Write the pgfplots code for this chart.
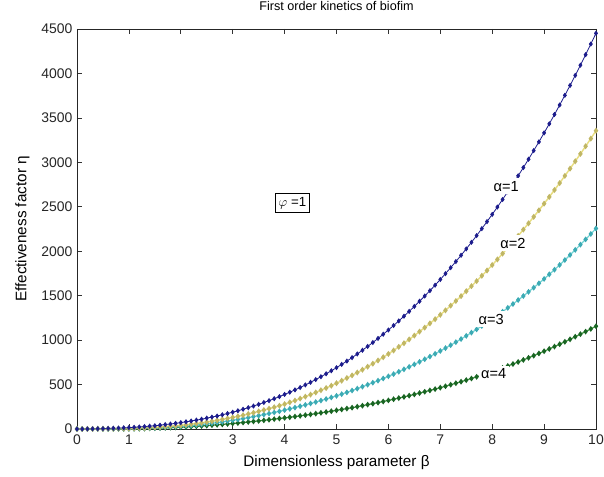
\documentclass[border=0pt]{standalone}
\usepackage{pgfplots}
\pgfplotsset{compat=1.18}
\usepackage{pgfplotstable}
\usepackage{fontspec}
\setmainfont{Liberation Sans}
\definecolor{cblue}{RGB}{28,28,140}
\definecolor{cyell}{RGB}{232,222,130}
\definecolor{cyellm}{RGB}{192,182,100}
\definecolor{ccyan}{RGB}{110,210,210}
\definecolor{ccyanm}{RGB}{60,170,180}
\definecolor{cgreen}{RGB}{60,150,60}
\definecolor{cgreenm}{RGB}{25,100,35}

% alpha = 1
\pgfplotstableread{
x y
0 0
0.1 0
0.2 1
0.3 2
0.4 3
0.5 4
0.6 6
0.7 8
0.8 10
0.9 13
1.0 16
1.1 19
1.2 23
1.3 27
1.4 32
1.5 37
1.6 43
1.7 50
1.8 56
1.9 64
2.0 72
2.1 81
2.2 90
2.3 100
2.4 110
2.5 122
2.6 134
2.7 146
2.8 160
2.9 174
3.0 189
3.1 205
3.2 222
3.3 240
3.4 258
3.5 277
3.6 298
3.7 319
3.8 341
3.9 364
4.0 389
4.1 414
4.2 440
4.3 467
4.4 496
4.5 525
4.6 556
4.7 588
4.8 621
4.9 655
5.0 690
5.1 727
5.2 764
5.3 803
5.4 844
5.5 886
5.6 929
5.7 973
5.8 1019
5.9 1066
6.0 1114
6.1 1164
6.2 1216
6.3 1269
6.4 1323
6.5 1379
6.6 1437
6.7 1496
6.8 1556
6.9 1618
7.0 1682
7.1 1748
7.2 1815
7.3 1884
7.4 1954
7.5 2026
7.6 2100
7.7 2176
7.8 2254
7.9 2333
8.0 2414
8.1 2497
8.2 2582
8.3 2669
8.4 2758
8.5 2848
8.6 2941
8.7 3035
8.8 3132
8.9 3230
9.0 3331
9.1 3433
9.2 3538
9.3 3645
9.4 3754
9.5 3865
9.6 3978
9.7 4093
9.8 4211
9.9 4331
10 4452
}\alphaone

% alpha = 2
\pgfplotstableread{
x y
0 0
0.1 0
0.2 1
0.3 1
0.4 2
0.5 2
0.6 3
0.7 3
0.8 4
0.9 4
1.0 5
1.1 7
1.2 10
1.3 12
1.4 15
1.5 18
1.6 22
1.7 26
1.8 31
1.9 35
2.0 40
2.1 47
2.2 54
2.3 61
2.4 69
2.5 78
2.6 87
2.7 97
2.8 108
2.9 119
3.0 130
3.1 142
3.2 155
3.3 169
3.4 183
3.5 198
3.6 213
3.7 229
3.8 245
3.9 262
4.0 280
4.1 300
4.2 320
4.3 342
4.4 364
4.5 387
4.6 411
4.7 436
4.8 461
4.9 487
5.0 515
5.1 543
5.2 573
5.3 603
5.4 635
5.5 667
5.6 701
5.7 735
5.8 771
5.9 807
6.0 845
6.1 883
6.2 924
6.3 965
6.4 1008
6.5 1051
6.6 1096
6.7 1141
6.8 1188
6.9 1235
7.0 1285
7.1 1335
7.2 1388
7.3 1440
7.4 1495
7.5 1550
7.6 1607
7.7 1664
7.8 1724
7.9 1783
8.0 1845
8.1 1908
8.2 1973
8.3 2038
8.4 2105
8.5 2173
8.6 2243
8.7 2314
8.8 2387
8.9 2460
9.0 2535
9.1 2611
9.2 2689
9.3 2767
9.4 2848
9.5 2929
9.6 3012
9.7 3095
9.8 3181
9.9 3267
10 3356
}\alphatwo

% alpha = 3
\pgfplotstableread{
x y
0 0
0.1 0
0.2 0
0.3 0
0.4 1
0.5 1
0.6 1
0.7 1
0.8 2
0.9 2
1.0 3
1.1 4
1.2 6
1.3 8
1.4 10
1.5 12
1.6 15
1.7 18
1.8 21
1.9 24
2.0 28
2.1 33
2.2 38
2.3 44
2.4 51
2.5 58
2.6 65
2.7 72
2.8 80
2.9 89
3.0 98
3.1 107
3.2 117
3.3 128
3.4 139
3.5 150
3.6 162
3.7 174
3.8 186
3.9 199
4.0 213
4.1 227
4.2 241
4.3 256
4.4 271
4.5 287
4.6 303
4.7 320
4.8 337
4.9 355
5.0 373
5.1 392
5.2 412
5.3 433
5.4 454
5.5 476
5.6 498
5.7 521
5.8 544
5.9 568
6.0 593
6.1 618
6.2 644
6.3 671
6.4 699
6.5 727
6.6 756
6.7 785
6.8 815
6.9 846
7.0 878
7.1 910
7.2 943
7.3 977
7.4 1012
7.5 1048
7.6 1084
7.7 1121
7.8 1159
7.9 1198
8.0 1238
8.1 1279
8.2 1320
8.3 1363
8.4 1406
8.5 1451
8.6 1496
8.7 1543
8.8 1590
8.9 1639
9.0 1688
9.1 1740
9.2 1792
9.3 1846
9.4 1901
9.5 1958
9.6 2015
9.7 2074
9.8 2133
9.9 2194
10 2256
}\alphathree

% alpha = 4
\pgfplotstableread{
x y
0 0
0.1 0
0.2 0
0.3 0
0.4 1
0.5 1
0.6 1
0.7 1
0.8 1
0.9 1
1.0 2
1.1 3
1.2 4
1.3 5
1.4 7
1.5 9
1.6 11
1.7 13
1.8 15
1.9 17
2.0 20
2.1 23
2.2 27
2.3 30
2.4 34
2.5 38
2.6 43
2.7 47
2.8 52
2.9 57
3.0 62
3.1 67
3.2 73
3.3 79
3.4 85
3.5 91
3.6 97
3.7 104
3.8 111
3.9 118
4.0 125
4.1 132
4.2 140
4.3 148
4.4 156
4.5 164
4.6 173
4.7 182
4.8 191
4.9 200
5.0 210
5.1 220
5.2 230
5.3 240
5.4 251
5.5 262
5.6 274
5.7 285
5.8 297
5.9 309
6.0 322
6.1 335
6.2 348
6.3 361
6.4 375
6.5 389
6.6 404
6.7 419
6.8 434
6.9 449
7.0 465
7.1 481
7.2 498
7.3 515
7.4 532
7.5 550
7.6 568
7.7 587
7.8 606
7.9 625
8.0 645
8.1 666
8.2 687
8.3 709
8.4 731
8.5 754
8.6 777
8.7 801
8.8 825
8.9 850
9.0 875
9.1 901
9.2 927
9.3 954
9.4 981
9.5 1009
9.6 1038
9.7 1067
9.8 1096
9.9 1126
10 1156
}\alphafour

\begin{document}
\begin{tikzpicture}
\begin{axis}[
  scale only axis,
  width=389.25bp, height=300bp,
  xmin=0, xmax=10, ymin=0, ymax=4500,
  xtick={0,1,...,10},
  ytick={0,500,...,4500},
  tick align=inside,
  major tick length=4bp,
  axis line style={line width=0.6pt, black!85},
  tick style={line width=0.5pt, black!80},
  scaled y ticks=false,
  /pgf/number format/assume math mode=true,
  /pgf/number format/set thousands separator={},
  ticklabel style={font=\fontsize{10.5}{12}\selectfont, text=black!85},
  xticklabel style={yshift=-1bp},
  title={First order kinetics of biofim},
  title style={font=\fontsize{9.5}{11}\selectfont, at={(axis description cs:0.5,1)}, anchor=center, yshift=11bp},
  xlabel={Dimensionless parameter β},
  ylabel={Effectiveness factor η},
  label style={font=\fontsize{11.5}{13}\selectfont},
  xlabel style={at={(axis description cs:0.5,0)}, anchor=center, yshift=-25bp},
  ylabel style={at={(axis description cs:0,0.5)}, anchor=center, rotate=0, yshift=41bp},
  clip=false,
]
\addplot[cgreen, line width=0.9pt, mark=diamond*, mark size=1.5pt, mark options={draw=cgreenm, fill=cgreenm}] table[x=x,y=y] {\alphafour};
\addplot[ccyan, line width=0.9pt, mark=diamond*, mark size=1.5pt, mark options={draw=ccyanm, fill=ccyanm}] table[x=x,y=y] {\alphathree};
\addplot[cyell, line width=1.1pt, mark=diamond*, mark size=1.4pt, mark options={draw=cyellm, fill=cyellm}] table[x=x,y=y] {\alphatwo};
\addplot[cblue, line width=0.6pt, mark=diamond*, mark size=1.5pt, mark options={draw=cblue, fill=cblue}] table[x=x,y=y] {\alphaone};
\coordinate (l1) at (axis cs:8.27,2733);
\coordinate (l2) at (axis cs:8.40,2092);
\coordinate (l3) at (axis cs:7.98,1237);
\coordinate (l4) at (axis cs:8.03,619);
\coordinate (lphi) at (axis cs:4.15,2542);
\end{axis}
\node[fill=white, inner sep=2pt, font=\fontsize{11}{12}\selectfont] at (l1) {α=1};
\node[fill=white, inner sep=2pt, font=\fontsize{11}{12}\selectfont] at (l2) {α=2};
\node[fill=white, inner sep=2pt, font=\fontsize{11}{12}\selectfont] at (l3) {α=3};
\node[fill=white, inner sep=2pt, font=\fontsize{11}{12}\selectfont] at (l4) {α=4};
\node[draw=black, line width=0.6pt, fill=white, inner sep=2.5pt, font=\fontsize{10}{12}\selectfont] at (lphi) {$\varphi$ =1};
\pgfresetboundingbox
\path (current axis.south west) ++(-57.75bp,-36bp) rectangle ([shift={(6bp,21.75bp)}]current axis.north east);
\end{tikzpicture}
\end{document}
